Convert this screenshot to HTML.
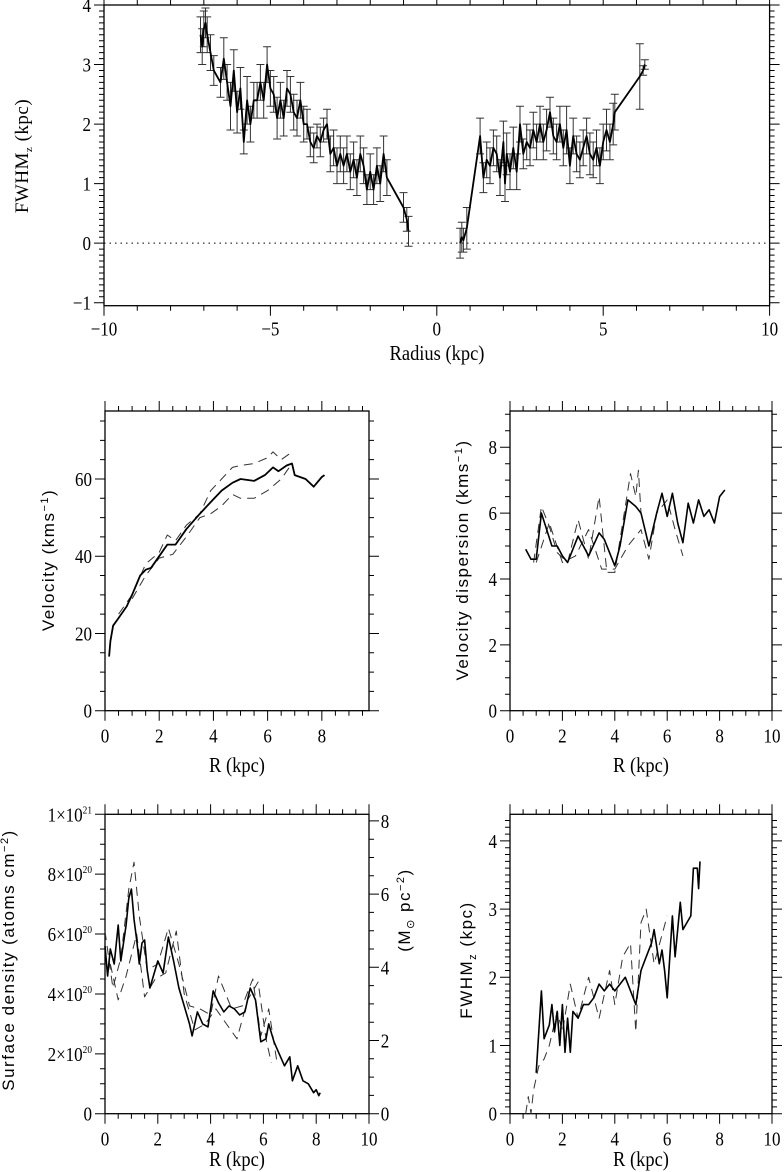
<!DOCTYPE html>
<html><head><meta charset="utf-8"><style>
html,body{margin:0;padding:0;background:#fff}
svg{display:block}
</style></head><body>
<svg id="fig" width="784" height="1172" viewBox="0 0 784 1172" xmlns="http://www.w3.org/2000/svg"></svg>
<script>
// ---- Top panel data: FWHM_z vs signed radius ----
const topLeftR=[-7.1,-7.05,-7.0,-6.95,-6.9,-6.8,-6.7,-6.5,-6.4,-6.3,-6.2,-6.1,-6.0,-5.9,-5.8,-5.7,-5.6,-5.5,-5.4,-5.3,-5.2,-5.1,-5.0,-4.9,-4.8,-4.7,-4.6,-4.5,-4.4,-4.3,-4.2,-4.1,-4.0,-3.9,-3.8,-3.7,-3.6,-3.5,-3.4,-3.3,-3.2,-3.1,-3.0,-2.9,-2.8,-2.7,-2.6,-2.5,-2.4,-2.3,-2.2,-2.1,-2.0,-1.9,-1.8,-1.7,-1.6,-1.5,-1.0,-0.9,-0.85];
const topLeftW=[3.5,3.3,3.6,3.7,3.5,3.2,2.9,2.7,3.1,2.7,2.3,2.9,2.2,2.6,1.7,2.4,2.0,2.4,2.4,2.7,2.4,3.0,2.6,2.5,2.1,2.4,2.1,2.6,2.5,2.2,2.1,2.4,2.0,2.0,1.7,1.6,1.8,1.7,1.9,2.0,1.5,1.6,1.3,1.5,1.3,1.5,1.2,1.4,1.1,1.5,1.3,0.9,1.2,0.9,1.3,1.0,1.5,1.1,0.6,0.4,0.2];
const topLeftE=[0.3,0.3,0.3,0.25,0.3,0.3,0.25,0.25,0.35,0.3,0.4,0.35,0.35,0.35,0.2,0.4,0.3,0.3,0.3,0.3,0.3,0.3,0.3,0.3,0.35,0.3,0.3,0.3,0.3,0.3,0.3,0.3,0.3,0.25,0.25,0.25,0.2,0.25,0.2,0.25,0.3,0.3,0.3,0.3,0.3,0.3,0.3,0.3,0.3,0.3,0.3,0.25,0.3,0.25,0.3,0.3,0.3,0.3,0.25,0.2,0.25];
const topRightR=[0.7,0.75,0.8,0.9,1.3,1.4,1.5,1.6,1.7,1.8,1.9,2.0,2.05,2.1,2.2,2.3,2.4,2.5,2.6,2.7,2.8,2.9,3.0,3.1,3.2,3.3,3.4,3.5,3.6,3.7,3.8,3.9,4.0,4.1,4.2,4.3,4.4,4.5,4.6,4.7,4.8,4.9,5.0,5.1,5.2,5.3,5.35,6.1,6.2,6.25];
const topRightW=[0.0,0.1,0.05,0.25,1.8,1.1,1.4,1.3,1.6,1.5,1.1,1.7,1.0,1.5,1.2,1.6,1.2,2.0,1.5,1.7,1.6,1.9,1.7,2.0,1.7,1.9,2.2,1.8,1.7,2.0,1.6,1.9,1.3,1.8,1.5,1.4,1.6,1.8,1.5,1.4,1.6,1.3,1.7,1.9,1.7,2.0,2.2,2.8,2.9,3.0];
const topRightE=[0.25,0.25,0.2,0.35,0.3,0.25,0.3,0.3,0.3,0.3,0.3,0.35,0.3,0.35,0.3,0.35,0.3,0.3,0.25,0.3,0.3,0.3,0.3,0.3,0.3,0.35,0.25,0.3,0.3,0.3,0.3,0.4,0.3,0.3,0.3,0.3,0.3,0.3,0.35,0.3,0.3,0.3,0.3,0.35,0.3,0.35,0.3,0.55,0.08,0.08];
// ---- Rotation velocity ----
const velR=[0.15,0.2,0.3,0.5,0.8,1.0,1.3,1.5,1.7,2.0,2.3,2.6,3.0,3.5,3.9,4.3,4.7,5.0,5.5,5.9,6.2,6.4,6.7,6.9,7.0,7.4,7.7,8.0,8.1];
const velV=[14,18,22,24,27,30,35,36.5,37,40,43,43,47,51,54,57,59,60,59.5,61,63,62,63.5,64,61,60,58,60.5,61];
const velUpR=[0.5,1.0,1.5,2.0,2.3,2.6,3.0,3.5,3.9,4.3,4.7,5.0,5.5,6.0,6.2,6.5,6.8];
const velUpV=[25,30,38,41,45.5,44,48,51,57,60,63,63.5,64,65.5,67,65,66.5];
const velLoR=[1.0,1.5,2.0,2.5,3.0,3.5,3.9,4.3,4.7,5.0,5.5,6.0,6.5,6.8];
const velLoV=[29,35,39.5,40.5,45,50,51,53,56,55,55,57,60,63];
// ---- Velocity dispersion ----
const dspR=[0.6,0.8,1.0,1.2,1.4,1.6,1.8,2.0,2.2,2.6,3.0,3.4,3.6,4.0,4.2,4.5,4.8,5.0,5.3,5.6,5.8,6.0,6.2,6.4,6.6,6.8,7.0,7.2,7.4,7.6,7.8,8.0,8.2];
const dspS=[4.9,4.6,4.6,6.0,5.5,5.0,5.0,4.7,4.5,5.3,4.7,5.4,5.2,4.4,5.0,6.4,6.2,6.0,5.0,6.0,6.6,5.9,6.6,5.7,5.1,6.3,5.7,6.4,5.9,6.1,5.7,6.5,6.7];
const dspAR=[0.9,1.2,1.5,1.8,2.2,2.6,3.0,3.4,3.7,4.0,4.4,4.6,4.8,4.9,5.0];
const dspAS=[4.5,6.2,5.6,4.8,4.5,5.8,4.6,6.5,4.2,4.2,6.2,7.2,6.5,7.3,6.0];
const dspBR=[1.0,1.5,2.0,2.5,3.0,3.5,4.0,4.5,5.0,5.3,5.6,6.0,6.3,6.6];
const dspBS=[4.5,5.7,4.5,4.7,5.5,4.3,4.3,5.0,5.5,4.6,6.0,6.4,5.5,4.7];
// ---- Surface density (units of 1e20 atoms cm^-2) ----
const sdR=[0,0.1,0.2,0.35,0.5,0.6,0.7,0.8,0.9,1.0,1.1,1.2,1.3,1.4,1.5,1.6,1.7,1.8,2.0,2.2,2.4,2.6,2.8,3.0,3.2,3.3,3.5,3.7,3.9,4.1,4.3,4.5,4.7,4.9,5.1,5.3,5.5,5.7,5.9,6.1,6.2,6.4,6.6,6.8,7.0,7.1,7.3,7.5,7.7,7.9,8.0,8.1,8.15];
const sdS=[5.6,4.6,5.5,5.0,6.3,5.1,5.7,6.3,7.2,7.5,6.5,5.8,5.0,5.7,5.8,4.8,4.2,4.5,5.1,4.7,5.9,5.1,4.2,3.6,3.0,2.6,3.4,3.0,2.9,4.1,3.7,3.4,3.6,3.5,3.3,3.4,4.2,3.8,2.4,2.5,3.0,2.4,2.0,1.6,1.9,1.1,1.6,1.1,1.0,0.7,0.8,0.6,0.7];
const sdAR=[0,0.3,0.6,0.9,1.1,1.3,1.6,2.0,2.4,2.8,3.2,3.6,4.0,4.3,4.8,5.2,5.6,5.9,6.2,6.5];
const sdAS=[6.1,4.2,5.2,7.5,8.4,6.6,4.8,5.0,6.2,5.0,3.6,3.5,3.3,4.6,3.5,3.6,4.5,2.6,3.5,1.8];
const sdBR=[0.2,0.5,0.8,1.2,1.5,1.9,2.3,2.7,3.0,3.4,3.8,4.2,4.6,5.0,5.4,5.8,6.1,6.3];
const sdBS=[5.0,3.8,4.6,6.0,3.9,4.5,4.7,6.1,4.0,2.8,3.0,3.5,3.0,2.5,3.8,4.4,2.5,1.7];
// ---- FWHM_z vs R ----
const fwR=[1.0,1.1,1.2,1.3,1.5,1.6,1.7,1.8,1.9,2.0,2.1,2.2,2.3,2.4,2.6,2.8,3.0,3.2,3.4,3.6,3.8,4.0,4.2,4.4,4.6,4.8,5.0,5.2,5.4,5.5,5.7,5.8,5.9,6.0,6.2,6.3,6.5,6.6,6.9,7.0,7.15,7.2,7.25];
const fwS=[0.6,1.2,1.8,1.1,1.3,1.6,1.2,1.5,1.0,1.6,0.9,1.4,0.9,1.5,1.4,1.6,1.6,1.7,1.9,1.8,1.9,1.8,1.9,2.0,1.8,1.6,2.1,2.3,2.5,2.7,2.2,2.4,2.1,1.7,2.9,2.3,3.1,2.7,2.9,3.6,3.6,3.3,3.7];
const fwDR=[0.6,0.7,0.8,0.9,1.1,1.3,1.5,1.8,2.0,2.3,2.6,3.0,3.4,3.8,4.0,4.3,4.6,4.8,5.0,5.2,5.5,6.0];
const fwDS=[0.0,0.25,0.0,0.35,0.7,0.8,1.0,1.5,1.2,1.9,1.4,2.0,1.4,2.1,1.6,2.3,2.5,1.2,2.8,3.0,2.2,2.9];

const NS="http://www.w3.org/2000/svg";
const fig=document.getElementById('fig');
const SERIF='"Liberation Serif", "DejaVu Serif", serif';
const SANS='"Liberation Sans", "DejaVu Sans", sans-serif';
function mk(tag,attrs,parent){const e=document.createElementNS(NS,tag);for(const k in attrs)e.setAttribute(k,attrs[k]);(parent||fig).appendChild(e);return e;}
function fmt(v){return v<0?'\u2212'+Math.abs(v):String(v);}
function tickText(x,y,anchor,g){return mk('text',{x:x,y:y,'text-anchor':anchor,'font-family':SERIF,'font-size':20,fill:'#000',transform:`translate(${x} ${y}) scale(0.85 1) translate(${-x} ${-y})`},g);}

function panel(name,x0,x1,y0,y1,xmin,xmax,ymin,ymax,xMaj,xMin,yMaj,yMin,opts){
  const g=mk('g',{});
  
  
  const sx=v=>x0+(v-xmin)/(xmax-xmin)*(x1-x0);
  const sy=v=>y1-(v-ymin)/(ymax-ymin)*(y1-y0);
  const fr=mk('rect',{x:x0,y:y0,width:x1-x0,height:y1-y0,fill:'none',stroke:'#000','stroke-width':1.3},g);
  
  
  let d='';
  const e=1e-6;
  for(let v=Math.ceil(xmin/xMin-e)*xMin;v<=xmax+e;v+=xMin){const X=sx(v);const maj=Math.abs(v/xMaj-Math.round(v/xMaj))<1e-4;const L=maj?10:5;d+=`M${X} ${y1}v${L}M${X} ${y0}v${-L}`;}
  for(let v=Math.ceil(ymin/yMin-e)*yMin;v<=ymax+e;v+=yMin){const Y=sy(v);const maj=Math.abs(v/yMaj-Math.round(v/yMaj))<1e-4;const L=maj?10:5;d+=`M${x0} ${Y}h${-L}`;if(!opts.noRightTicks)d+=`M${x1} ${Y}h${L}`;}
  const tk=mk('path',{d:d,stroke:'#000','stroke-width':1,fill:'none'},g);
  
  
  for(const v of opts.xLabels){const t=tickText(sx(v),y1+opts.xLabOff,'middle',g);t.textContent=fmt(v);
    
    }
  if(opts.yLabels){for(let i=0;i<opts.yLabels.length;i++){const v=opts.yLabels[i];const t=tickText(x0-13,sy(v)+7,'end',g);
    if(opts.yLabelText){t.innerHTML=opts.yLabelText[i];}else t.textContent=fmt(v);
    
    }}
  return {g,sx,sy};
}
function line(p,xs,ys,name,dash,w){
  let d='';for(let i=0;i<xs.length;i++)d+=(i?'L':'M')+p.sx(xs[i]).toFixed(1)+' '+p.sy(ys[i]).toFixed(1);
  const a={d:d,fill:'none',stroke:dash?'#333':'#000','stroke-width':w||1.6,'stroke-linejoin':'round'};
  if(dash)a['stroke-dasharray']=dash;
  const e=mk('path',a,p.g);
  
  
}
function ytitle(x,y,html,name,serif){const t=mk('text',{x:x,y:y,transform:`rotate(-90 ${x} ${y})`,'text-anchor':'middle','font-family':serif?SERIF:SANS,'font-size':serif?19:17,'letter-spacing':serif?0.5:1.5,fill:'#000'});t.innerHTML=html;
  
  }
function xtitle(x,y,s,name){const t=mk('text',{x:x,y:y,'text-anchor':'middle','font-family':SERIF,'font-size':21,fill:'#000',transform:`translate(${x} ${y}) scale(0.88 1) translate(${-x} ${-y})`});t.textContent=s;
  
  }

// Top panel
const P1=panel('fwhm-radius-panel',104,769.6,5,305.7,-10,10,-1.05,4.0,5,1,1,0.1,{xLabels:[-10,-5,0,5,10],xLabOff:30,yLabels:[-1,0,1,2,3,4]});
const zl=mk('line',{x1:104,x2:769.6,y1:P1.sy(0),y2:P1.sy(0),stroke:'#000','stroke-dasharray':'1.5 4','stroke-width':1},P1.g);


function errbars(p,xs,ys,es,name){let d='';for(let i=0;i<xs.length;i++){const X=p.sx(xs[i]),a=p.sy(ys[i]-es[i]),b=p.sy(ys[i]+es[i]);d+=`M${X.toFixed(1)} ${a.toFixed(1)}V${b.toFixed(1)}M${(X-4).toFixed(1)} ${a.toFixed(1)}h8M${(X-4).toFixed(1)} ${b.toFixed(1)}h8`;}
  const e=mk('path',{d:d,stroke:'#333','stroke-width':1,fill:'none'},p.g);
  
  }
errbars(P1,topLeftR,topLeftW,topLeftE,'error-bars-left');
errbars(P1,topRightR,topRightW,topRightE,'error-bars-right');
line(P1,topLeftR,topLeftW,'fwhm-line-left',null,1.8);
line(P1,topRightR,topRightW,'fwhm-line-right',null,1.8);
ytitle(28,156,'FWHM<tspan font-size="11" dy="4">z</tspan><tspan dy="-4"> (kpc)</tspan>','y-axis-title-fwhm-top',true);
xtitle(437,360,'Radius (kpc)','x-axis-title-radius');

// Velocity panel
const P2=panel('velocity-panel',105,369,411,710.7,0,9.74,0,77.6,2,0.5,20,5,{xLabels:[0,2,4,6,8],xLabOff:32,yLabels:[0,20,40,60]});
line(P2,velUpR,velUpV,'velocity-dashed-upper','9 6',1);
line(P2,velLoR,velLoV,'velocity-dashed-lower','9 6',1);
line(P2,velR,velV,'velocity-line',null,1.8);
ytitle(54,560,'Velocity (kms<tspan font-size="11" dy="-6">−1</tspan><tspan dy="6">)</tspan>','y-axis-title-velocity');
xtitle(237,772,'R (kpc)','x-axis-title-velocity');

// Dispersion panel
const P3=panel('dispersion-panel',510,772,411,710.7,0,10,0,9.1,2,0.5,2,0.5,{xLabels:[0,2,4,6,8,10],xLabOff:32,yLabels:[0,2,4,6,8]});
line(P3,dspAR,dspAS,'dispersion-dashed-a','9 6',1);
line(P3,dspBR,dspBS,'dispersion-dashed-b','9 6',1);
line(P3,dspR,dspS,'dispersion-line',null,1.6);
ytitle(468,560,'Velocity dispersion (kms<tspan font-size="11" dy="-6">−1</tspan><tspan dy="6">)</tspan>','y-axis-title-dispersion');
xtitle(641,772,'R (kpc)','x-axis-title-dispersion');

// Surface density panel
const P4=panel('surface-density-panel',105,369,814.3,1113.7,0,10,0,10,2,0.5,2,0.5,{xLabels:[0,2,4,6,8,10],xLabOff:32,noRightTicks:true,yLabels:[0,2,4,6,8,10],
  yLabelText:['0','2×10<tspan font-size="11" dy="-8">20</tspan>','4×10<tspan font-size="11" dy="-8">20</tspan>','6×10<tspan font-size="11" dy="-8">20</tspan>','8×10<tspan font-size="11" dy="-8">20</tspan>','1×10<tspan font-size="11" dy="-8">21</tspan>']});
{let d='';const sr=v=>1113.7-v/8.18*(1113.7-814.3);for(let v=0;v<=8.01;v+=0.5){const maj=Math.abs(v/2-Math.round(v/2))<1e-4;d+=`M369 ${sr(v)}h${maj?10:5}`;}
 const e=mk('path',{d:d,stroke:'#000','stroke-width':1},P4.g);
 
 
 for(const v of [0,2,4,6,8]){const t=tickText(385,sr(v)+7,'middle',P4.g);t.textContent=v;
  
  }}
line(P4,sdAR,sdAS,'surface-dashed-a','9 6',1);
line(P4,sdBR,sdBS,'surface-dashed-b','9 6',1);
line(P4,sdR,sdS,'surface-density-line',null,1.6);
ytitle(14,960,'Surface density (atoms cm<tspan font-size="11" dy="-6">−2</tspan><tspan dy="6">)</tspan>','y-axis-title-surface-density');
ytitle(410,910,'(M<tspan font-size="11" dy="4">⊙</tspan><tspan dy="-4"> pc</tspan><tspan font-size="11" dy="-6">−2</tspan><tspan dy="6">)</tspan>','right-axis-title');
xtitle(237,1166,'R (kpc)','x-axis-title-surface');

// FWHM vs R panel
const P5=panel('fwhm-r-panel',510,772,814.3,1113.7,0,10,0,4.39,2,0.5,1,0.1,{xLabels:[0,2,4,6,8,10],xLabOff:32,yLabels:[0,1,2,3,4]});
line(P5,fwDR,fwDS,'fwhm-dashed','9 6',1);
line(P5,fwR,fwS,'fwhm-r-line',null,1.6);
ytitle(472,960,'FWHM<tspan font-size="11" dy="4">z</tspan><tspan dy="-4"> (kpc)</tspan>','y-axis-title-fwhm-bottom');
xtitle(641,1166,'R (kpc)','x-axis-title-fwhm');
</script>
</body></html>
